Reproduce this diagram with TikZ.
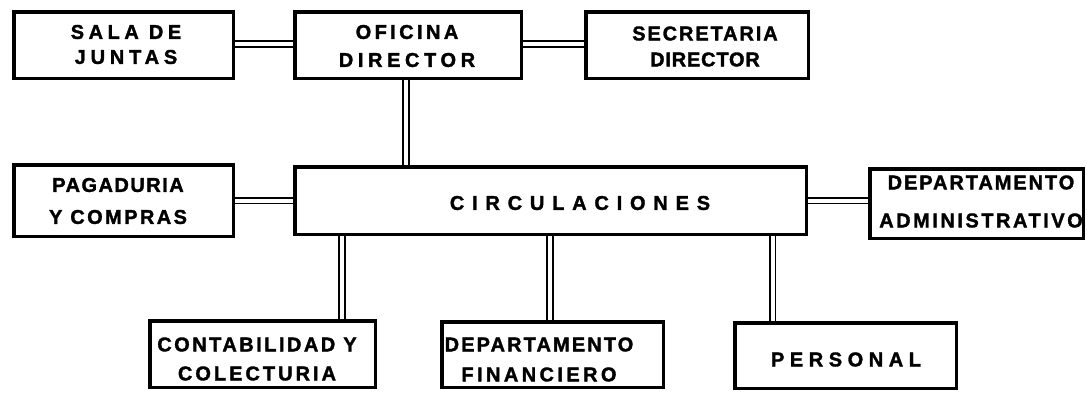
\documentclass[tikz,border=0pt]{standalone}
\usepackage{fontspec}
\setmainfont{Liberation Sans}
\newfontfamily\lblfont{Liberation Sans}[BoldFeatures={FakeBold=1.6}]
\newcommand\lsp[1]{\addfontfeature{LetterSpace=#1}}
\tikzset{
  box/.style={draw=black, line width=3.5pt, rectangle, inner sep=0pt, fill=white},
  lbl/.style={inner sep=0pt, align=center, font=\lblfont\bfseries\fontsize{20}{23}\selectfont},
  dbl/.style={draw=black, line width=1.8pt, double=white, double distance=4pt}
}
\begin{document}
\begin{tikzpicture}[x=1pt,y=-1pt]
\useasboundingbox[fill=white] (0,0) rectangle (1087,392);
\coordinate (pSala) at (123.5,45);
\coordinate (pOfi) at (408,45);
\coordinate (pSecr) at (697,45);
\coordinate (pPag) at (123.5,200.5);
\coordinate (pCirc) at (550.5,200.5);
\coordinate (pAdm) at (976.5,203.5);
\coordinate (pConta) at (262.5,354);
\coordinate (pFin) at (552.5,354.5);
\coordinate (pPers) at (845.5,355.5);

\node[box, minimum width=219.5pt, minimum height=66.5pt] (sala) at (pSala) {};
\node[box, minimum width=226.5pt, minimum height=66.5pt] (ofi) at (pOfi) {};
\node[box, minimum width=222.5pt, minimum height=66.5pt] (secr) at (pSecr) {};
\node[box, minimum width=219.5pt, minimum height=71.5pt] (pag) at (pPag) {};
\node[box, minimum width=511.5pt, minimum height=67.5pt] (circ) at (pCirc) {};
\node[box, minimum width=213.5pt, minimum height=69.5pt] (adm) at (pAdm) {};
\node[box, minimum width=225.5pt, minimum height=66.5pt] (conta) at (pConta) {};
\node[box, minimum width=221.5pt, minimum height=65.5pt] (fin) at (pFin) {};
\node[box, minimum width=221.5pt, minimum height=65.5pt] (pers) at (pPers) {};

% double-line connectors
\draw[dbl] ([yshift=1pt]sala.east) -- ([yshift=1pt]sala.east -| ofi.west);
\draw[dbl] ([yshift=1pt]ofi.east) -- ([yshift=1pt]ofi.east -| secr.west);
\draw[dbl] (pag.east) -- (pag.east -| circ.west);
\draw[dbl] (circ.east) -- (circ.east -| adm.west);
\draw[dbl] ([xshift=-2pt]ofi.south) -- ([xshift=-2pt]ofi.south |- circ.north);
\draw[dbl] ([xshift=79.5pt]conta.north) -- ([xshift=79.5pt]conta.north |- circ.south);
\draw[dbl] ([xshift=-2.5pt]fin.north) -- ([xshift=-2.5pt]fin.north |- circ.south);
\draw[dbl] ([xshift=-73pt]pers.north) -- ([xshift=-73pt]pers.north |- circ.south);

% labels
\node[lbl] (salaT) at (126,44.5) {{\lsp{22.7}SALA DE}\\[2pt]{\lsp{24}JUNTAS}};
\node[lbl] (ofiT) at (407,46) {{\lsp{17}OFICINA}\\[5pt]{\lsp{23}DIRECTOR}};
\node[lbl] (secrT) at (705,46.5) {{\lsp{9.4}SECRETARIA}\\[3pt]{\lsp{4}DIRECTOR}};
\node[lbl] (pagT) at (118,201) {{\lsp{7.4}PAGADURIA}\\[9pt]{\lsp{12}Y COMPRAS}};
\node[lbl] (circT) at (580,203) {{\lsp{39}CIRCULACIONES}};
\node[lbl] (admT) at (981,201.5) {{\lsp{9.6}DEPARTAMENTO}\\[15pt]{\lsp{12.6}ADMINISTRATIVO}};
\node[lbl] (contaT) at (257,359) {{\lsp{12.4}CONTABILIDAD Y}\\[6pt]{\lsp{15}COLECTURIA}};
\node[lbl] (finT) at (539,359.5) {{\lsp{10.5}DEPARTAMENTO}\\[7pt]{\lsp{17}FINANCIERO}};
\node[lbl] (persT) at (846,359.5) {{\lsp{27.8}PERSONAL}};
\end{tikzpicture}
\end{document}
